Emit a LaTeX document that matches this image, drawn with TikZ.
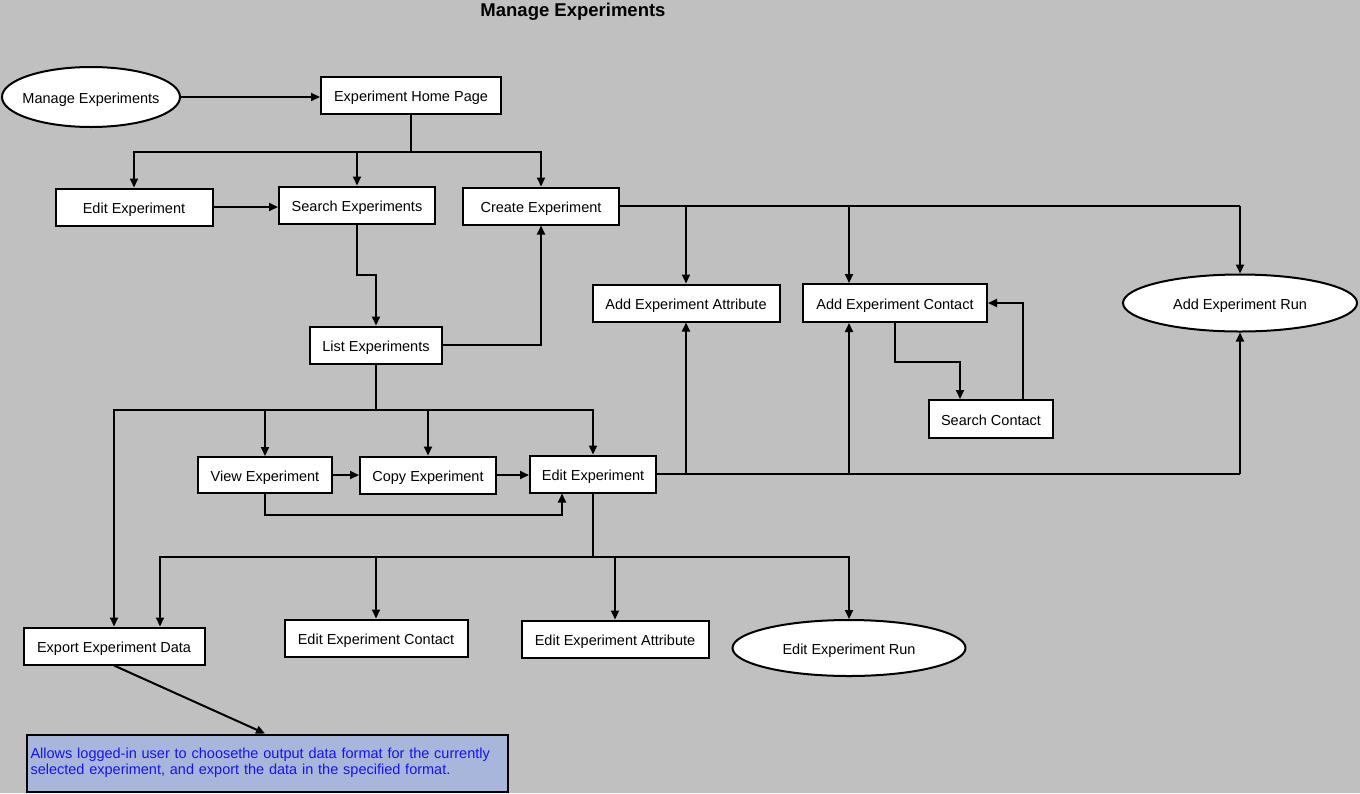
\documentclass[tikz,border=0pt]{standalone}
\usepackage{fontspec}
\setmainfont{Liberation Sans}
\usepackage{tikz}
\usetikzlibrary{shapes.geometric, arrows.meta, positioning, calc}
\definecolor{bggray}{RGB}{192,192,192}
\definecolor{notefill}{RGB}{168,182,220}
\definecolor{notetext}{RGB}{20,20,235}
\tikzstyle{page} = [rectangle, draw=black, line width=2pt, fill=white, minimum height=37pt, inner sep=0pt, text height=13pt, text depth=1pt, font=\fontsize{14.5}{17}\selectfont]
\tikzstyle{usecase} = [ellipse, draw=black, line width=2pt, fill=white, inner ysep=0pt, text height=13pt, text depth=1pt, font=\fontsize{14.5}{17}\selectfont]
\tikzstyle{link} = [line width=2pt]
\tikzstyle{arrow} = [line width=2pt, -{Triangle[length=9pt,width=8pt]}]
\tikzstyle{note} = [rectangle, draw=black, line width=2pt, fill=notefill, text=notetext, align=left, inner sep=0pt, font=\fontsize{14.5}{16}\selectfont]

\begin{document}
\begin{tikzpicture}[x=1pt, y=-1pt]
            \fill[bggray] (0,0) rectangle (1360,793);
            \useasboundingbox (0,0) rectangle (1360,793);
            \node[font=\bfseries\fontsize{18.5}{20}\selectfont] (title) at (573,12) {Manage Experiments};
            % top part
            \node[usecase, inner xsep=-6pt, minimum width=178pt, minimum height=60pt] (manage) at (91,97) {Manage Experiments};
            \node[page, minimum width=180pt] (home) at (411,95) {Experiment Home Page};
            \node[page, minimum width=157pt] (edittop) at (134,207) {Edit Experiment};
            \node[page, minimum width=156pt] (search) at (357,205) {Search Experiments};
            \node[page, minimum width=156pt] (create) at (541,206) {Create Experiment};
            \node[page, minimum width=132pt] (list) at (376,345) {List Experiments};
            \node[page, minimum width=187pt] (addattr) at (686,303) {Add Experiment Attribute};
            \node[page, minimum width=184pt, minimum height=38pt] (addcontact) at (895,303) {Add Experiment Contact};
            \node[usecase, inner xsep=0pt, minimum width=234pt, minimum height=57pt] (addrun) at (1240,303) {Add Experiment Run};
            \node[page, minimum width=124pt, minimum height=38pt] (searchcontact) at (991,419) {Search Contact};
            % middle part
            \node[page, minimum width=134pt, minimum height=36pt] (view) at (265,475) {View Experiment};
            \node[page, minimum width=136pt] (copy) at (428,475) {Copy Experiment};
            \node[page, minimum width=126pt] (editmid) at (593,474) {Edit Experiment};
            % bottom part
            \node[page, minimum width=181pt] (export) at (114,646) {Export Experiment Data};
            \node[page, minimum width=183pt] (editcontact) at (376,638) {Edit Experiment Contact};
            \node[page, minimum width=187pt] (editattr) at (615,639) {Edit Experiment Attribute};
            \node[usecase, inner xsep=0pt, minimum width=233pt, minimum height=56pt] (editrun) at (849,648) {Edit Experiment Run};
            \node[note, minimum width=481pt, minimum height=57pt, text width=477pt] (info) at (267,763) {\hspace*{2pt}Allows logged-in user to choosethe output data format for the currently\\\hspace*{2pt}selected experiment, and export the data in the specified format.};

            \coordinate (ctn) at ([xshift=-46pt]addcontact.north);
            \coordinate (cts) at ([xshift=-46pt]addcontact.south);

            \draw[arrow] (manage) -- (manage -| home.west);
            \draw[link] (home.south) -- ++(0,37) coordinate (hsplit);
            \draw[arrow] (hsplit) -| (edittop);
            \draw[arrow] (hsplit) -| (search);
            \draw[arrow] (hsplit) -| (create);
            \draw[arrow] (edittop) -- (edittop -| search.west);
            \draw[arrow] (search.south) -- ++(0,50) -| (list);
            \draw[arrow] (list.east) -| (create);
            \draw[link] (create.east) -- (create.east -| addrun);
            \draw[arrow] (create.east -| addattr) -- (addattr);
            \draw[arrow] (create.east -| ctn) -- (ctn);
            \draw[arrow] (create.east -| addrun) -- (addrun);
            \draw[arrow] (addcontact.south) -- ++(0,39) -| ([xshift=-31pt]searchcontact.north);
            \draw[arrow] ([xshift=32pt]searchcontact.north) |- (addcontact.east);

            \draw[link] (list.south) -- ++(0,45) coordinate (lsplit);
            \draw[arrow] (lsplit) -| (export);
            \draw[arrow] (lsplit) -| (view);
            \draw[arrow] (lsplit) -| (copy);
            \draw[arrow] (lsplit) -| (editmid);
            \draw[arrow] (view) -- (copy);
            \draw[arrow] (copy) -- (copy -| editmid.west);
            \draw[arrow] (view.south) -- ++(0,21) -| ([xshift=-31pt]editmid.south);
            \draw[link] (editmid.east) -- (editmid.east -| addrun);
            \draw[arrow] (editmid.east -| addattr) -- (addattr);
            \draw[arrow] (editmid.east -| cts) -- (cts);
            \draw[arrow] (editmid.east -| addrun) -- (addrun);

            \draw[link] (editmid.south) -- ++(0,63) coordinate (esplit);
            \draw[arrow] (esplit) -| ([xshift=46pt]export.north);
            \draw[arrow] (esplit) -| (editcontact);
            \draw[arrow] (esplit) -| (editattr);
            \draw[arrow] (esplit) -| (editrun);
            \draw[arrow] (export.south) -- ([xshift=-2pt]info.north);
        \end{tikzpicture}
\end{document}
